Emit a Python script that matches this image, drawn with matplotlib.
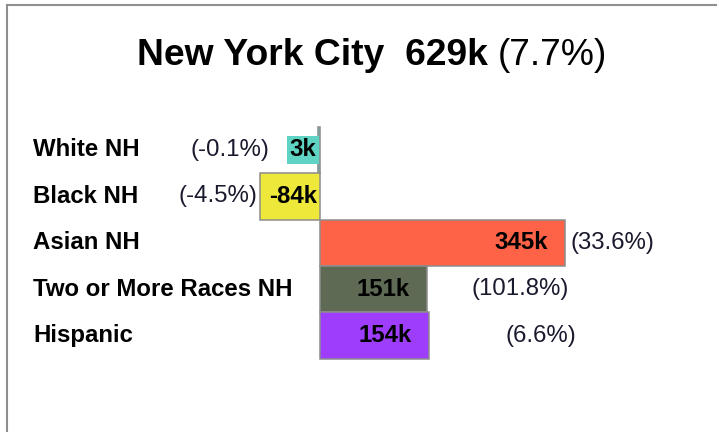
import matplotlib.pyplot as plt
from matplotlib.lines import Line2D

plt.rcParams['font.family'] = ['Liberation Sans', 'DejaVu Sans']

# data
categories = ["White NH", "Black NH", "Asian NH", "Two or More Races NH", "Hispanic"]
change_k = [-3, -84, 345, 151, 154]
value_labels = ["3k", "-84k", "345k", "151k", "154k"]
pct_labels = ["(-0.1%)", "(-4.5%)", "(33.6%)", "(101.8%)", "(6.6%)"]
colors = ["#5fd3c4", "#ede83a", "#ff6347", "#5f6a55", "#9f3dfc"]
title_place = "New York City"
title_total = "629k"
title_pct = "(7.7%)"

# layout (pixels)
W, H = 717, 432
PX_PER_K = 0.709
ZERO_X = 320
ROW0_Y = 150
ROW_H = 46.4
pct_offsets = [-48, -3, 6, 44, 76]
EDGE = '#8c8c8c'
FS = 17.3

fig = plt.figure(figsize=(W / 100, H / 100), dpi=100)
ax = fig.add_axes([0, 0, 1, 1])
ax.set_xlim(-ZERO_X / PX_PER_K, (W - ZERO_X) / PX_PER_K)
ax.set_ylim((H - ROW0_Y) / ROW_H, -ROW0_Y / ROW_H)
ax.axis('off')

rows = range(len(categories))
ax.barh(rows, change_k, height=1.0, color=colors, edgecolor=EDGE, linewidth=1.1)

ytr = ax.get_yaxis_transform()
for i, (cat, v, vl, pl) in enumerate(zip(categories, change_k, value_labels, pct_labels)):
    ax.text(33 / W, i, cat, transform=ytr, ha='left', va='center',
            fontsize=FS, fontweight='bold', color='black')
    if v >= 0:
        ax.annotate(vl, (v, i), xytext=(-17, 0), textcoords='offset pixels',
                    ha='right', va='center', fontsize=FS, fontweight='bold')
        ax.annotate(pl, (v, i), xytext=(pct_offsets[i], 0), textcoords='offset pixels',
                    ha='left', va='center', fontsize=FS, color='#1a1a2e')
    else:
        # label too wide for a tiny bar gets its own coloured box
        small = abs(v) * PX_PER_K < 30
        if small:
            bbox = dict(boxstyle='square,pad=0.1', fc=colors[i], ec='none')
            off = -3.5
        else:
            bbox = None
            off = -3
        ax.annotate(vl, (0, i), xytext=(off, 0), textcoords='offset pixels',
                    ha='right', va='center', fontsize=FS, fontweight='bold', bbox=bbox)
        ax.annotate(pl, (v, i), xytext=(pct_offsets[i], 0), textcoords='offset pixels',
                    ha='right', va='center', fontsize=FS, color='#1a1a2e')

# title: bold part + regular part, centred as a whole
renderer = fig.canvas.get_renderer()
ty = 1 - 65 / H
t1 = fig.text(0, ty, title_place + "  " + title_total + " ", fontsize=26.8,
              fontweight='bold', va='baseline', ha='left')
t2 = fig.text(0, ty, title_pct, fontsize=26.8, va='baseline', ha='left')
w1 = t1.get_window_extent(renderer).width
w2 = t2.get_window_extent(renderer).width
x0 = 372 - (w1 + w2) / 2
t1.set_x(x0 / W)
t2.set_x((x0 + w1) / W)

# frame lines
fig.add_artist(Line2D([7 / W, 1], [1 - 5 / H, 1 - 5 / H], color='#8f8f8f', lw=1.5,
                      transform=fig.transFigure))
fig.add_artist(Line2D([7 / W, 7 / W], [0, 1 - 5 / H], color='#8f8f8f', lw=1.5,
                      transform=fig.transFigure))

fig.savefig('out.png', dpi=100, facecolor='white')
